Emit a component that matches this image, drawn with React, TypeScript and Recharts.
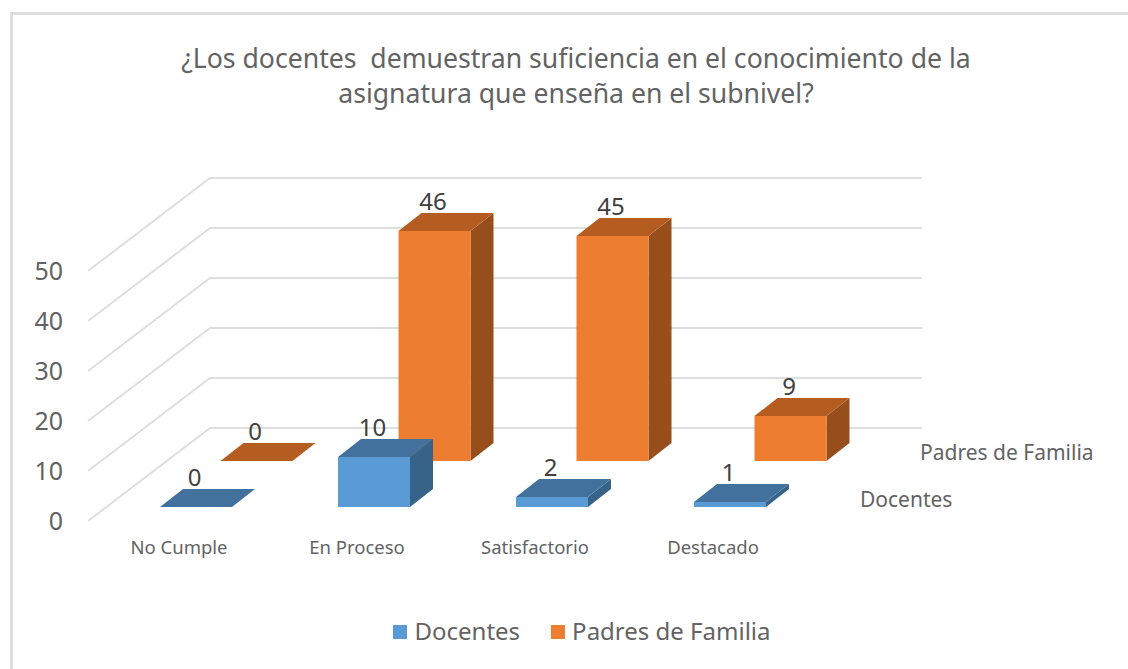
import { BarChart, Bar, XAxis, YAxis, CartesianGrid, Legend, LabelList } from 'recharts'

const categories = ['No Cumple', 'En Proceso', 'Satisfactorio', 'Destacado']
const docentes = [0, 10, 2, 1]
const padres = [0, 46, 45, 9]
const yTicks = [0, 10, 20, 30, 40, 50]
const titleLines = ['¿Los docentes  demuestran suficiencia en el conocimiento de la', 'asignatura que enseña en el subnivel?']

const data = categories.map((name, i) => ({ name, docentes: docentes[i], padres: padres[i] }))

const FONT = '"Noto Sans", sans-serif'
const TEXT = '#636363'
const GRID = '#DEDEDE'

// fake 3d: front plane is the plot area, each row is pushed back along the floor
const DOCENTES_ROW = { ox: 17, oy: -14 }
const PADRES_ROW = { ox: 77.5, oy: -60 }
const WALL = { dx: 122, dy: -93, end: 922 }
const BOX = { dx: 23, dy: -18 }

const BLUE = { front: '#5B9BD5', top: '#41719C', side: '#376389' }
const ORANGE = { front: '#ED7D31', top: '#B55D21', side: '#974E1B' }

const box3d = (c: typeof BLUE, row: typeof DOCENTES_ROW) => (props: any) => {
  const x = props.x + row.ox
  const y = props.y + row.oy
  const w = props.width
  const h = props.height
  return (
    <g>
      <path
        d={`M${x + w},${y}L${x + w + BOX.dx},${y + BOX.dy}V${y + h + BOX.dy}L${x + w},${y + h}Z`}
        fill={c.side}
      />
      <path
        d={`M${x},${y}L${x + BOX.dx},${y + BOX.dy}H${x + w + BOX.dx}L${x + w},${y}Z`}
        fill={c.top}
      />
      <rect x={x} y={y} width={w} height={h} fill={c.front} />
    </g>
  )
}

const valueLabel = (row: typeof DOCENTES_ROW) => (props: any) => (
  <text
    x={props.x + props.width / 2 + row.ox - 1.5}
    y={props.y + row.oy - 21}
    textAnchor='middle'
    fontFamily={FONT}
    fontSize={24}
    fill='#404040'
  >
    {props.value}
  </text>
)

const wallLine = (props: any) => {
  const { x1, y1 } = props
  return (
    <path
      key={props.key}
      d={`M${x1 - 2},${y1}L${x1 - 2 + WALL.dx},${y1 + WALL.dy}H${WALL.end}`}
      stroke={GRID}
      strokeWidth={2}
      fill='none'
    />
  )
}

const legendText = (value: string) => (
  <span style={{ color: TEXT, fontFamily: FONT, fontSize: 24, position: 'relative', top: 4, marginLeft: 3, marginRight: 21 }}>
    {value}
  </span>
)

export default function App() {
  return (
    <div style={{ position: 'absolute', left: 0, top: 0, width: 1128, height: 669, background: '#fff', overflow: 'hidden' }}>
      <div
        style={{
          position: 'absolute',
          left: 10,
          top: 12,
          width: 1128,
          height: 669,
          borderLeft: `3px solid ${GRID}`,
          borderTop: `3px solid ${GRID}`,
        }}
      />
      <BarChart
        width={1128}
        height={669}
        data={data}
        barSize={72}
        barGap={-72}
        margin={{ top: 271, right: 326, bottom: 118, left: 30 }}
        style={{ position: 'absolute', left: 0, top: 0 }}
      >
        <CartesianGrid horizontal={wallLine} vertical={false} />
        <XAxis
          dataKey='name'
          axisLine={false}
          tickLine={false}
          tickMargin={14}
          interval={0}
          tick={{ fill: TEXT, fontFamily: FONT, fontSize: 18.5 }}
        />
        <YAxis
          width={60}
          domain={[0, 50]}
          ticks={yTicks}
          axisLine={false}
          tickLine={false}
          tickMargin={21}
          tick={{ fill: TEXT, fontFamily: FONT, fontSize: 25 }}
        />
        <Bar dataKey='padres' name='Padres de Familia' fill={ORANGE.front} isAnimationActive={false} shape={box3d(ORANGE, PADRES_ROW)}>
          <LabelList dataKey='padres' content={valueLabel(PADRES_ROW)} />
        </Bar>
        <Bar dataKey='docentes' name='Docentes' fill={BLUE.front} isAnimationActive={false} shape={box3d(BLUE, DOCENTES_ROW)}>
          <LabelList dataKey='docentes' content={valueLabel(DOCENTES_ROW)} />
        </Bar>
        <Legend
          layout='horizontal'
          verticalAlign='middle'
          iconType='square'
          iconSize={14}
          formatter={legendText}
          wrapperStyle={{ left: 387, top: 610, width: 421 }}
        />
        {titleLines.map((line, i) => (
          <text
            key={line}
            x={576}
            y={68 + i * 35}
            textAnchor='middle'
            xmlSpace='preserve'
            style={{ whiteSpace: 'pre' }}
            fontFamily={FONT}
            fontSize={26.6}
            fill={TEXT}
          >
            {line}
          </text>
        ))}
        <text x={920} y={460} fontFamily={FONT} fontSize={21} fill={TEXT}>Padres de Familia</text>
        <text x={860} y={507} fontFamily={FONT} fontSize={21} fill={TEXT}>Docentes</text>
      </BarChart>
    </div>
  )
}
